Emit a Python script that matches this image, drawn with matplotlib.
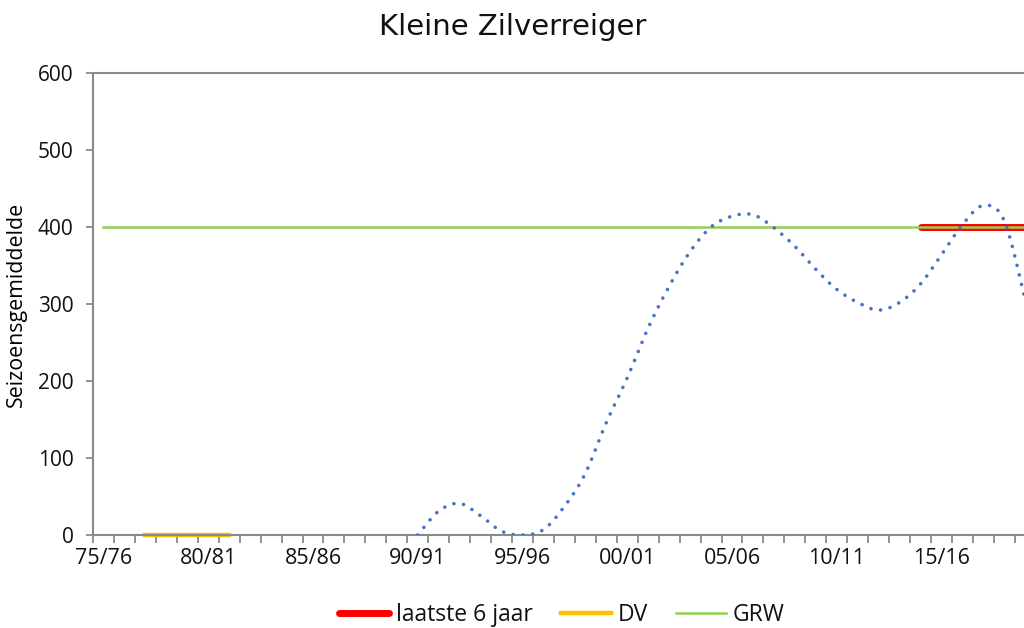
import matplotlib

matplotlib.use("Agg")
import matplotlib.pyplot as plt  # noqa: E402
import numpy as np  # noqa: E402

# seizoenen 75/76 t/m 19/20
START_YEARS = list(range(1975, 2020))
SEASONS = [f"{y % 100:02d}/{(y + 1) % 100:02d}" for y in START_YEARS]

# seizoensgemiddelde (vanaf 90/91)
COUNT_SEASONS = SEASONS[15:]
COUNTS = [0, 31, 41, 25, 5, 0, 7, 37, 80, 146, 204, 269, 323, 368, 400,
          414, 416, 399, 375, 345, 319, 302, 292, 302, 326, 364, 403, 428,
          408, 305]

# referentielijnen
GRW_VALUE = 400
GRW_SEASONS = (SEASONS[0], SEASONS[-1])
DV_VALUE = 0
DV_SEASONS = ("77/78", "81/82")
LAST6_VALUE = 400
LAST6_SEASONS = ("14/15", "19/20")

TICK_LABELS = SEASONS[::5]

BLUE = "#4472C4"
RED = "#FF0000"
GOLD = "#FFC000"
GREEN = "#92D050"
AXIS = "#898989"
TEXT = "#111111"


def xpos(season):
    return SEASONS.index(season) + 0.5


def smooth(x, y, n=24):
    """Excel-achtige gladde lijn (Catmull-Rom / Bezier)."""
    x = np.asarray(x, float)
    y = np.asarray(y, float)
    px = np.concatenate([[x[0]], x, [x[-1]]])
    py = np.concatenate([[y[0]], y, [y[-1]]])
    xs, ys = [], []
    t = np.linspace(0, 1, n)
    for i in range(1, len(px) - 2):
        p0, p1, p2, p3 = (np.array([px[j], py[j]]) for j in (i - 1, i, i + 1, i + 2))
        c1 = p1 + (p2 - p0) / 6
        c2 = p2 - (p3 - p1) / 6
        pts = ((1 - t) ** 3)[:, None] * p1 + (3 * (1 - t) ** 2 * t)[:, None] * c1 \
            + (3 * (1 - t) * t ** 2)[:, None] * c2 + (t ** 3)[:, None] * p2
        xs.append(pts[:, 0])
        ys.append(pts[:, 1])
    return np.concatenate(xs), np.concatenate(ys)


plt.rcParams.update({
    "font.family": ["Open Sans", "DejaVu Sans"],
    "text.color": TEXT,
    "xtick.color": TEXT,
    "ytick.color": TEXT,
})

W, H = 1024, 628
fig = plt.figure(figsize=(W / 100, H / 100), dpi=100)
# plotgebied loopt rechts buiten het beeld door
ax = fig.add_axes([93 / W, 93 / H, len(SEASONS) * 20.95 / W, 462 / H])

ax.plot([xpos(s) for s in LAST6_SEASONS], [LAST6_VALUE] * 2, color=RED, lw=5,
        solid_capstyle="round", label="laatste 6 jaar", zorder=2)
ax.plot([xpos(s) for s in DV_SEASONS], [DV_VALUE] * 2, color=GOLD, lw=3.2,
        label="DV", zorder=2, clip_on=False)
ax.plot([xpos(s) for s in GRW_SEASONS], [GRW_VALUE] * 2, color=GREEN, lw=1.8,
        label="GRW", zorder=3)

sx, sy = smooth([xpos(s) for s in COUNT_SEASONS], COUNTS)
ax.plot(sx, sy, color=BLUE, lw=2.6, linestyle=(0, (0.01, 2.7)),
        dash_capstyle="round", zorder=4)

ax.set_xlim(0, len(SEASONS))
ax.set_ylim(0, 600)
ax.set_yticks(range(0, 601, 100))
ax.set_xticks([xpos(s) for s in TICK_LABELS])
ax.set_xticklabels(TICK_LABELS)
ax.set_xticks(np.arange(0, len(SEASONS) + 1), minor=True)
ax.tick_params(axis="x", which="major", length=0, pad=9, labelsize=15.5)
ax.tick_params(axis="x", which="minor", length=6, width=1.3, color=AXIS, direction="out")
ax.tick_params(axis="y", length=5, width=1.3, color=AXIS, pad=9, labelsize=15)

for side in ("left", "bottom", "top", "right"):
    ax.spines[side].set_color(AXIS)
    ax.spines[side].set_linewidth(1.5)

ax.set_ylabel("Seizoensgemiddelde", fontsize=15.4, labelpad=8)
fig.text(513 / W, 1 - 27 / H, "Kleine Zilverreiger", ha="center", va="center",
         fontsize=21, family="DejaVu Sans")

ax.legend(loc="center", bbox_to_anchor=(562 / W, 1 - 615 / H),
          bbox_transform=fig.transFigure, ncol=3, frameon=False, fontsize=16.5,
          handlelength=2.2, handletextpad=0.3, columnspacing=1.2)

fig.savefig("out.png", dpi=100)
